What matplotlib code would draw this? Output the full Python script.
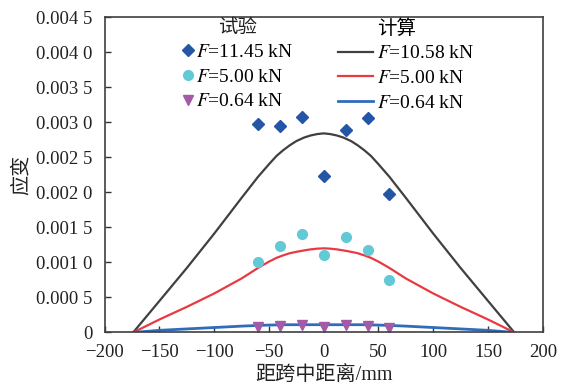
import numpy as np
import matplotlib
matplotlib.use("Agg")
import matplotlib.pyplot as plt
from matplotlib.lines import Line2D
from matplotlib.ticker import FixedLocator

plt.rcParams['font.family'] = ['Liberation Serif', 'Noto Sans CJK SC']
plt.rcParams['mathtext.fontset'] = 'stix'

# Test points (distance from mid-span, mm)
test_x = [-60, -40, -20, 0, 20, 40, 60]
test_1145 = [0.00297, 0.00295, 0.00307, 0.00223, 0.00289, 0.00306, 0.00198]
test_500 = [0.00101, 0.00124, 0.00140, 0.00110, 0.00136, 0.00118, 0.00075]
test_064 = [0.00008, 0.00009, 0.00010, 0.00008, 0.00010, 0.00009, 0.00007]

# Calculated curves
calc_x = [-174, -150, -125, -100, -75, -60, -50, -43, -37, -31, -25, -18, -12, -6, 0,
          6, 12, 18, 25, 31, 37, 43, 50, 60, 75, 100, 125, 150, 174]
calc_1058 = [0.0, 0.00045, 0.00092, 0.00141, 0.00192, 0.00222, 0.00240, 0.00252,
             0.00260, 0.00267, 0.00273, 0.00278, 0.00281, 0.00283, 0.00284,
             0.00283, 0.00281, 0.00278, 0.00273, 0.00267, 0.00260, 0.00252,
             0.00240, 0.00222, 0.00192, 0.00141, 0.00092, 0.00045, 0.0]
calc_500 = [0.0, 0.000185, 0.000365, 0.000556, 0.00077, 0.00092, 0.00101, 0.001065,
            0.00110, 0.00113, 0.00115, 0.00117, 0.001185, 0.001195, 0.00120,
            0.001195, 0.001185, 0.00117, 0.00115, 0.00113, 0.00110, 0.001065,
            0.00101, 0.00092, 0.00077, 0.000556, 0.000365, 0.000185, 0.0]
calc_064 = [0.0, 0.00003, 0.00005, 0.00007, 0.00009, 0.00010, 0.000105, 0.000107,
            0.00011, 0.00011, 0.00011, 0.00011, 0.00011, 0.00011, 0.00011,
            0.00011, 0.00011, 0.00011, 0.00011, 0.00011, 0.00011, 0.000107,
            0.000105, 0.00010, 0.00009, 0.00007, 0.00005, 0.00003, 0.0]

yticks = [0, 0.0005, 0.001, 0.0015, 0.002, 0.0025, 0.003, 0.0035, 0.004, 0.0045]
ytick_labels = ['0', '0.000 5', '0.001 0', '0.001 5', '0.002 0', '0.002 5',
                '0.003 0', '0.003 5', '0.004 0', '0.004 5']
xticks = [-200, -150, -100, -50, 0, 50, 100, 150, 200]
xtick_labels = ['\u2212200', '\u2212150', '\u2212100', '\u221250', '0',
                '50', '100', '150', '200']

c_dia = '#2556a6'
c_cir = '#62c9d6'
c_tri = '#a35ba8'
c_l1 = '#404040'
c_l2 = '#e83a42'
c_l3 = '#2f6cbb'

fig = plt.figure(figsize=(5.63, 3.87), dpi=100)
ax = fig.add_axes([0.186, 0.141, 0.778, 0.815])

l1, = ax.plot(calc_x, calc_1058, color=c_l1, lw=1.6)
l2, = ax.plot(calc_x, calc_500, color=c_l2, lw=1.6)
l3, = ax.plot(calc_x, calc_064, color=c_l3, lw=2.0)
m1, = ax.plot(test_x, test_1145, 'D', color=c_dia, ms=6.5, ls='none')
m2, = ax.plot(test_x, test_500, 'o', color=c_cir, ms=7, ls='none')
m3, = ax.plot(test_x, test_064, 'v', color=c_tri, ms=7.5, ls='none')

ax.set_xlim(-200, 200)
ax.set_ylim(0, 0.0045)
ax.xaxis.set_major_locator(FixedLocator(xticks))
ax.set_xticklabels(xtick_labels)
ax.yaxis.set_major_locator(FixedLocator(yticks))
ax.set_yticklabels(ytick_labels)
ax.tick_params(direction='in', length=4, width=1, labelsize=13.5,
               colors='#333333', labelcolor='#222222', top=False, right=False)
ax.tick_params(axis='x', pad=8)
ax.tick_params(axis='y', pad=9)
for s in ax.spines.values():
    s.set_color('#404040')
    s.set_linewidth(1.2)

ax.set_xlabel('距跨中距离/mm', fontsize=14.5, labelpad=4, color='#222222')
ax.set_ylabel('应变', fontsize=14.5, labelpad=3, color='#222222')

# legend for test points
leg1 = ax.legend([m1, m2, m3], ['$F$=11.45 kN', '$F$=5.00 kN', '$F$=0.64 kN'],
                 title='试验', title_fontsize=14, fontsize=14, frameon=False,
                 loc='upper left', bbox_to_anchor=(0.176, 0.993),
                 borderpad=0, borderaxespad=0, handlelength=0.6,
                 handletextpad=0.15, labelspacing=0.36)
leg1.get_title().set_color('#222222')
ax.add_artist(leg1)

# legend for calculated curves
blank = Line2D([], [], ls='none')
leg2 = ax.legend([blank, l1, l2, l3],
                 ['计算', '$F$=10.58 kN', '$F$=5.00 kN', '$F$=0.64 kN'],
                 fontsize=14, frameon=False, loc='upper left',
                 bbox_to_anchor=(0.533, 0.993), borderpad=0, borderaxespad=0,
                 handlelength=1.8, handletextpad=0.2, labelspacing=0.36)

plt.savefig('out.png', dpi=100)
